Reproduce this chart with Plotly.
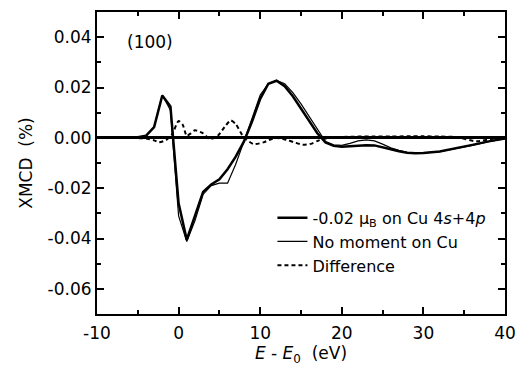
import plotly.graph_objects as go

# ---- data ----
x_moment = [-10, -6, -5, -4, -3, -2, -1, 0, 1, 2, 3, 4, 5, 6, 7, 8, 9, 10, 11, 12, 13, 14, 15,
            16, 17, 18, 19, 20, 21, 22, 23, 24, 25, 26, 27, 28, 29, 30, 32, 34, 36, 38, 40]
y_moment = [0, 0, 0.0002, 0.0008, 0.0043, 0.0168, 0.0125, -0.026, -0.0405, -0.031, -0.0215,
            -0.0185, -0.0165, -0.0125, -0.0075, -0.0015, 0.0065, 0.0155, 0.0215, 0.0227, 0.0205,
            0.0165, 0.0115, 0.0065, 0.0018, -0.0018, -0.0032, -0.0035, -0.0032, -0.003, -0.0029,
            -0.003, -0.0036, -0.0045, -0.0053, -0.0059, -0.0061, -0.006, -0.0054, -0.0042,
            -0.0028, -0.0014, -0.0003]

x_nomoment = x_moment
y_nomoment = [0, 0, 0.0002, 0.0008, 0.0043, 0.0170, 0.011, -0.031, -0.0412, -0.033, -0.0225,
              -0.019, -0.018, -0.018, -0.0105, -0.0015, 0.008, 0.017, 0.0215, 0.0228, 0.0215,
              0.018, 0.0135, 0.0085, 0.003, -0.0015, -0.0028, -0.003, -0.0022, -0.0012, -0.0008,
              -0.0012, -0.0025, -0.004, -0.005, -0.0058, -0.006, -0.006, -0.0055, -0.0043,
              -0.003, -0.0015, -0.0003]

x_diff = [-10, -6, -4, -3, -2.4, -1.5, -0.8, 0, 0.5, 1, 1.5, 2, 3, 3.8, 4.8, 5.8, 6.4, 7, 8,
          9.2, 10.4, 11.8, 13.2, 14.2, 15.2, 16.2, 17.2, 18.5, 20, 22, 24, 26, 28, 30, 32, 34,
          36.5, 38.5, 40]
y_diff = [0, 0, -0.0003, -0.001, -0.0018, -0.0008, 0.0014, 0.0067, 0.0052, 0.0008, 0.0018,
          0.003, 0.0018, -0.0005, 0.0008, 0.005, 0.0069, 0.0055, 0.0002, -0.0025, -0.0018,
          0.0, -0.0008, -0.0018, -0.0027, -0.0024, -0.001, 0.0, 0.0003, 0.0005, 0.0005, 0.0005,
          0.0006, 0.0006, 0.0005, 0.0003, -0.0014, -0.0004, 0]

x_ticks = [-10, 0, 10, 20, 30, 40]
x_ticktext = ["-10", "0", "10", "20", "30", "40"]
y_ticks = [0.04, 0.02, 0.0, -0.02, -0.04, -0.06]
y_ticktext = ["0.04", "0.02", "0.00", "-0.02", "-0.04", "-0.06"]

name_moment = "-0.02 \u03bc<sub>B</sub> on Cu 4<i>s</i>+4<i>p</i>"
name_nomoment = "No moment on Cu"
name_diff = "Difference"

FONT = "DejaVu Sans"

fig = go.Figure()
fig.add_trace(go.Scatter(x=x_moment, y=y_moment, mode="lines", name=name_moment,
                         line=dict(color="black", width=2.5)))
fig.add_trace(go.Scatter(x=x_nomoment, y=y_nomoment, mode="lines", name=name_nomoment,
                         line=dict(color="black", width=1.2)))
fig.add_trace(go.Scatter(x=x_diff, y=y_diff, mode="lines", name=name_diff,
                         line=dict(color="black", width=2, dash="4px,3px", shape="spline", smoothing=0.6)))

axis_common = dict(showline=True, linecolor="black", linewidth=2, mirror="ticks",
                   ticks="inside", ticklen=7, tickwidth=1.5, tickcolor="black",
                   showgrid=False, tickfont=dict(family=FONT, size=17, color="black"))

fig.update_xaxes(range=[-10, 40], tickvals=x_ticks, ticktext=x_ticktext,
                 minor=dict(ticks="inside", dtick=5, tick0=0, ticklen=4, tickwidth=1.5, tickcolor="black"),
                 zeroline=False, ticklabelstandoff=3,
                 title=dict(text="<i>E</i> - <i>E</i><sub>0</sub>  (eV)",
                            font=dict(family=FONT, size=17, color="black"), standoff=4),
                 **axis_common)
fig.update_yaxes(range=[-0.07, 0.05], tickvals=y_ticks, ticktext=y_ticktext,
                 minor=dict(ticks="inside", dtick=0.01, tick0=0, ticklen=4, tickwidth=1.5, tickcolor="black"),
                 zeroline=True, zerolinecolor="black", zerolinewidth=2.5,
                 title=dict(text="XMCD  (%)", font=dict(family=FONT, size=17, color="black"), standoff=11),
                 **axis_common)

fig.add_annotation(text="(100)", xref="paper", yref="paper", x=0.069, y=0.90,
                   xanchor="left", yanchor="middle", showarrow=False,
                   font=dict(family=FONT, size=17, color="black"))

fig.update_layout(width=526, height=372, margin=dict(l=97, r=10, t=10, b=58),
                  paper_bgcolor="white", plot_bgcolor="white",
                  legend=dict(x=0.43, y=0.375, xanchor="left", yanchor="top",
                              bgcolor="rgba(0,0,0,0)", tracegroupgap=0,
                              font=dict(family=FONT, size=16, color="black")),
                  font=dict(family=FONT, color="black"))

fig.write_html("out.html")
